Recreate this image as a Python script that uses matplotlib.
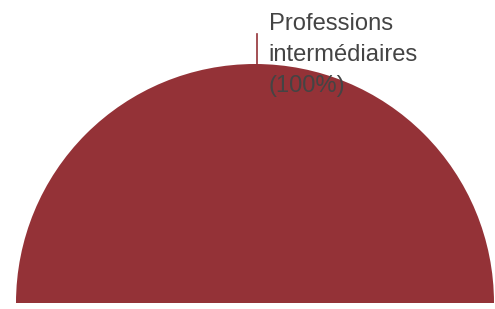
import numpy as np
import matplotlib.pyplot as plt

plt.rcParams['font.family'] = ['Liberation Sans', 'DejaVu Sans']

categories = ["Professions intermédiaires"]
values = [100]
colors = ['#943237']


def plot(cats, vals):
    fig = plt.figure(figsize=(4.95, 3.09), dpi=100)
    ax = fig.add_axes([0, 0, 1, 1])
    total = sum(vals)
    # half pie: add an invisible wedge of the same size as the total
    wedges, _ = ax.pie(vals + [total], colors=colors + ['none'],
                       startangle=180, counterclock=False, radius=1.0,
                       wedgeprops=dict(linewidth=0))
    wedges[-1].set_visible(False)

    r_px = 239.0
    ax.set_aspect('auto')
    ax.set_xlim(-255 / r_px, (495 - 255) / r_px)
    ax.set_ylim(-6 / r_px, 303 / r_px)
    ax.axis('off')

    for w, c, v in zip(wedges[:-1], cats, vals):
        ang = np.deg2rad((w.theta1 + w.theta2) / 2)
        x0, y0 = 0.007 + np.cos(ang) * 1.0, np.sin(ang) * 1.0
        x1, y1 = 0.007 + np.cos(ang) * 1.125, np.sin(ang) * 1.125
        ax.plot([x0, x1], [y0, y1], color=colors[0], lw=1.2)
        lines = c.split(' ') + ["(%d%%)" % round(100 * v / total)]
        # first baseline ~36px from the top, 31px between lines
        for i, s in enumerate(lines):
            ax.text(x1 + 12 / r_px, (309 - 36 - 31 * i) / r_px, s,
                    ha='left', va='baseline', fontsize=17.1, color='#444444')

    fig.savefig('out.png', dpi=100)


plot(categories, values)
